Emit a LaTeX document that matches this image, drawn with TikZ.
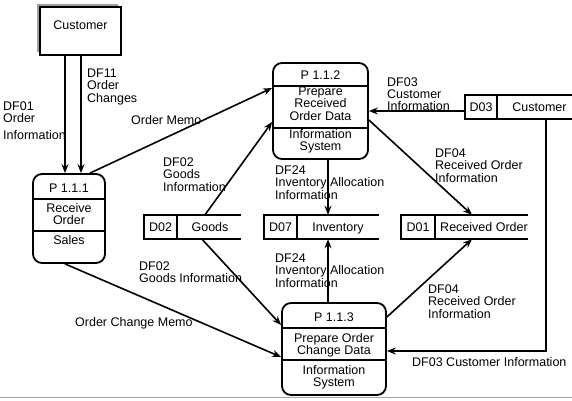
\documentclass[tikz,border=0pt]{standalone}
\usepackage{fontspec}
\setmainfont{Liberation Sans}
\usetikzlibrary{arrows.meta}
\newcommand\mylinesl[1]{\begin{tabular}[t]{@{}l@{}}#1\end{tabular}}
\newcommand\mylinesc[1]{\begin{tabular}[t]{@{}c@{}}#1\end{tabular}}
\begin{document}
\begin{tikzpicture}[x=1pt,y=-1pt,
  font=\fontsize{12.5}{12}\selectfont,
  proc/.style={draw, line width=1.8pt, rounded corners=9pt, inner sep=0pt},
  store/.style={inner sep=0pt, minimum height=24pt},
  sline/.style={line width=1.8pt},
  flow/.style={line width=1.6pt, -{Stealth[length=9pt,width=7pt,inset=3pt]}},
  lbl/.style={anchor=base west, inner sep=0pt},
  ctext/.style={anchor=base, inner sep=0pt}]
\useasboundingbox (0,0) rectangle (572,400);
% bottom border line
\draw[line width=1.5pt, gray!70] (0,397.5) -- (572,397.5);

% external entity Customer with shadow
\fill[gray!75] (37,4) rectangle (118,52);
\node[draw, fill=white, line width=1.8pt, minimum width=81pt, minimum height=48pt, inner sep=0pt] (cust) at (80.5,31) {};
\node[ctext] (custt) at (80.5,29) {Customer};

% processes
\node[proc, minimum width=72pt, minimum height=89pt] (p111) at (69,218.5) {};
\draw[sline] (p111.west |- 0,199) -- (p111.east |- 0,199);
\draw[sline] (p111.west |- 0,231) -- (p111.east |- 0,231);
\node[ctext] (p111a) at (69,192) {P 1.1.1};
\node[ctext] (p111b) at (69,212) {\mylinesc{Receive\\Order}};
\node[ctext] (p111c) at (69,244) {Sales};

\node[proc, minimum width=95pt, minimum height=96pt] (p112) at (320.5,111) {};
\draw[sline] (p112.west |- 0,86) -- (p112.east |- 0,86);
\draw[sline] (p112.west |- 0,128) -- (p112.east |- 0,128);
\node[ctext] (p112a) at (320.5,79) {P 1.1.2};
\node[ctext] (p112b) at (320.5,95) {\mylinesc{Prepare\\Received\\Order Data}};
\node[ctext] (p112c) at (320.5,138) {\mylinesc{Information\\System}};

\node[proc, minimum width=104pt, minimum height=92pt] (p113) at (334,349) {};
\draw[sline] (p113.west |- 0,328) -- (p113.east |- 0,328);
\draw[sline] (p113.west |- 0,360) -- (p113.east |- 0,360);
\node[ctext] (p113a) at (334,321) {P 1.1.3};
\node[ctext] (p113b) at (334,342) {\mylinesc{Prepare Order\\Change Data}};
\node[ctext] (p113c) at (334,374) {\mylinesc{Information\\System}};

% data stores
\node[store, minimum width=97pt] (d02) at (192.5,227) {};
\draw[sline] (d02.north east) -- (d02.north west) -- (d02.south west) -- (d02.south east);
\draw[sline] ([xshift=33pt]d02.north west) -- ([xshift=33pt]d02.south west);
\node[ctext] (d02a) at (160.5,231) {D02};
\node[ctext] (d02b) at (210,231) {Goods};

\node[store, minimum width=115pt] (d07) at (321.5,227) {};
\draw[sline] (d07.north east) -- (d07.north west) -- (d07.south west) -- (d07.south east);
\draw[sline] ([xshift=33pt]d07.north west) -- ([xshift=33pt]d07.south west);
\node[ctext] (d07a) at (280.5,231) {D07};
\node[ctext] (d07b) at (338,231) {Inventory};

\node[store, minimum width=127pt] (d01) at (464.5,227) {};
\draw[sline] (d01.north east) -- (d01.north west) -- (d01.south west) -- (d01.south east);
\draw[sline] ([xshift=34pt]d01.north west) -- ([xshift=34pt]d01.south west);
\node[ctext] (d01a) at (418,231) {D01};
\node[ctext] (d01b) at (484,231) {Received Order};

\node[store, minimum width=107pt] (d03) at (518.5,107) {};
\draw[sline] (d03.north east) -- (d03.north west) -- (d03.south west) -- (d03.south east);
\draw[sline] ([xshift=32pt]d03.north west) -- ([xshift=32pt]d03.south west);
\node[ctext] (d03a) at (481,111) {D03};
\node[ctext] (d03b) at (539.5,111) {Customer};

% flows
\draw[flow] ([xshift=-15.5pt]cust.south) -- ([xshift=-4pt]p111.north);
\draw[flow] ([xshift=0.5pt]cust.south) -- ([xshift=12pt]p111.north);
\draw[flow] ([xshift=21pt]p111.north) -- ([yshift=23pt]p112.west);
\draw[flow] ([xshift=12.5pt]d02.north) -- ([yshift=-11pt]p112.west);
\draw[flow] (d03.west |- p112.east) -- (p112.east);
\draw[flow] ([xshift=7.5pt]p112.south) -- ([xshift=6.5pt]d07.north);
\draw[flow] ([yshift=-9pt]p112.east) -- ([xshift=7.5pt]d01.north);
\draw[flow] ([xshift=9.5pt]d02.south) -- ([yshift=24pt]p113.west);
\draw[flow] ([xshift=-4pt]p111.south) -- ([yshift=-8pt]p113.west);
\draw[flow] ([xshift=-6pt]p113.north) -- ([xshift=6.5pt]d07.south);
\draw[flow] ([yshift=32pt]p113.east) -- ([xshift=7.5pt]d01.south);
\draw[flow] ([xshift=27.5pt]d03.south) |- ([yshift=-2pt]p113.east);

% flow labels
\node[lbl] (l1) at (3,110) {\mylinesl{DF01\\Order\\[4pt]Information}};
\node[lbl] (l2) at (87,77) {\mylinesl{DF11\\Order\\Changes}};
\node[lbl] (l3) at (131,124) {Order Memo};
\node[lbl] (l4) at (163,166) {\mylinesl{DF02\\Goods\\Information}};
\node[lbl] (l5) at (275,174) {\mylinesl{DF24\\Inventory Allocation\\Information}};
\node[lbl] (l6) at (387,86) {\mylinesl{DF03\\Customer\\Information}};
\node[lbl] (l7) at (435,157) {\mylinesl{DF04\\Received Order\\Information}};
\node[lbl] (l8) at (139,270) {\mylinesl{DF02\\Goods Information}};
\node[lbl] (l9) at (275,262) {\mylinesl{DF24\\Inventory Allocation\\Information}};
\node[lbl] (l10) at (428,293) {\mylinesl{DF04\\Received Order\\Information}};
\node[lbl] (l11) at (75,326) {Order Change Memo};
\node[lbl] (l12) at (412,366) {DF03 Customer Information};
\end{tikzpicture}
\end{document}
